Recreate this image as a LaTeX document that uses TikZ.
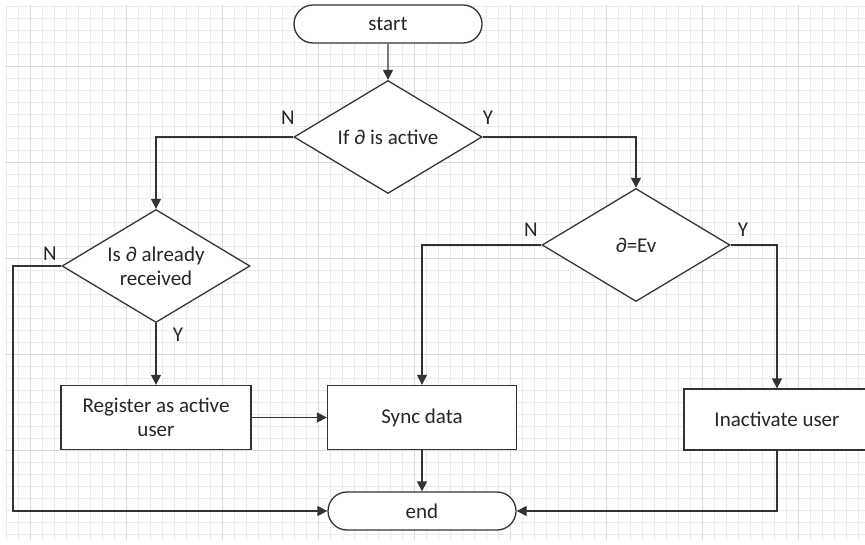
\documentclass[tikz,border=0pt]{standalone}
\usepackage{fontspec}
\setmainfont{Carlito}
\usetikzlibrary{shapes.geometric,shapes.misc,arrows.meta}
\begin{document}
\begin{tikzpicture}[x=1pt,y=-1pt,
  txt/.style={font=\fontsize{21}{24}\selectfont, text=black!85},
  box/.style={txt, draw=black!80, line width=1.3pt, fill=white, inner sep=0pt, align=center},
  term/.style={box, rounded rectangle, minimum width=188pt, minimum height=38pt},
  dec/.style={box, diamond, aspect=1.66, minimum width=188pt, minimum height=113pt},
  proc/.style={box, rectangle, minimum height=64pt},
  conn/.style={draw=black!80, line width=1.3pt},
  arr/.style={conn, -{Triangle[length=10pt,width=10pt]}},
  lab/.style={txt, inner sep=0pt},
  gminor/.style={draw=black!8, line width=0.6pt},
  gmajor/.style={draw=black!15, line width=0.8pt}
]
\useasboundingbox (0,0) rectangle (865,545);
\fill[white] (0,0) rectangle (865,545);
% grid
\foreach \k in {0,...,71} {\draw[gminor] ({6+12*\k},5) -- ({6+12*\k},540);}
\foreach \k in {0,...,44} {\draw[gminor] (5,{6+12*\k}) -- (865,{6+12*\k});}
\foreach \k in {0,...,8} {\draw[gmajor] ({30+96*\k},5) -- ({30+96*\k},540);}
\foreach \k in {0,...,4} {\draw[gmajor] (5,{66+96*\k}) -- (865,{66+96*\k});}

% nodes
\node[term] (start) at (388,24) {start};
\node[dec] (d1) at (388,137) {If ∂ is active};
\node[dec] (d2) at (156,266) {Is ∂ already\\received};
\node[dec] (d3) at (636,245) {∂=Ev};
\node[proc, minimum width=190pt] (reg) at (156,417.5) {Register as active\\user};
\node[proc, minimum width=189pt] (sync) at (422,417.5) {Sync data};
\node[proc, minimum width=186pt, minimum height=61pt] (inact) at (777,419.5) {Inactivate user};
\node[term] (end) at (422,511) {end};
\coordinate (lx) at (13,266);

% labels
\node[lab] (n1) at (288,118) {N};
\node[lab] (y1) at (488,118) {Y};
\node[lab] (n2) at (50,254) {N};
\node[lab] (y2) at (178,335) {Y};
\node[lab] (n3) at (531,230) {N};
\node[lab] (y3) at (743,230) {Y};

% connectors
\draw[arr] (start) -- (d1);
\draw[arr] (d1.west) -| (d2.north);
\draw[arr] (d1.east) -| (d3.north);
\draw[arr] (d2.south) -- (reg.north);
\draw[arr] (d2.west) -- (lx) |- (end.west);
\draw[arr] (reg.east) -- (sync.west);
\draw[arr] (d3.west) -| (sync.north);
\draw[arr] (d3.east) -| (inact.north);
\draw[arr] (sync.south) -- (end.north);
\draw[arr] (inact.south) |- (end.east);
\end{tikzpicture}
\end{document}
